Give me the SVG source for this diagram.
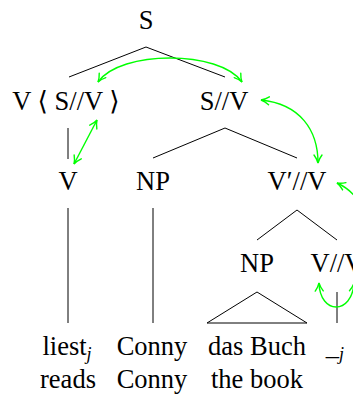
<svg xmlns="http://www.w3.org/2000/svg" width="353" height="398" viewBox="0 0 353 398">
  <defs>
    <style>
      .lbl { font-family: "Liberation Serif", "DejaVu Serif", serif; font-size: 26.5px; fill: #000; text-anchor: middle; }
      .sub { font-style: italic; font-size: 18px; }
      .edge { stroke: #000; stroke-width: 1; fill: none; }
      .link { stroke: #00ff00; stroke-width: 1.4; fill: none; }
    </style>
    <marker id="tip" viewBox="0 0 10 10" refX="9" refY="5" markerWidth="10" markerHeight="10" markerUnits="userSpaceOnUse" orient="auto-start-reverse">
      <path d="M1,1 Q5,4 9,5 Q5,6 1,9" stroke="#00ff00" stroke-width="1.4" fill="none" stroke-linecap="round"/>
    </marker>
  </defs>

  <rect width="353" height="398" fill="#fff"/>

  <!-- tree nodes -->
  <g id="n-S"><text class="lbl" x="146" y="29">S</text></g>
  <g id="n-Vhead"><text class="lbl" x="66" y="110">V ⟨ S//V ⟩</text></g>
  <g id="n-SV"><text class="lbl" x="224" y="110">S//V</text></g>
  <g id="n-V"><text class="lbl" x="68" y="190">V</text></g>
  <g id="n-NP1"><text class="lbl" x="153" y="190">NP</text></g>
  <g id="n-VpV"><text class="lbl" x="297" y="190">V′//V</text></g>
  <g id="n-NP2"><text class="lbl" x="257" y="272">NP</text></g>
  <g id="n-VV"><text class="lbl" x="337" y="272">V//V</text></g>

  <!-- leaves and glosses -->
  <g id="leaf-liest"><text class="lbl" x="67" y="355">liest<tspan class="sub" dy="5">j</tspan></text><text class="lbl" x="68" y="388">reads</text></g>
  <g id="leaf-conny"><text class="lbl" x="152" y="355">Conny</text><text class="lbl" x="152" y="388">Conny</text></g>
  <g id="leaf-buch"><text class="lbl" x="257" y="355">das Buch</text><text class="lbl" x="257" y="388">the book</text></g>
  <g id="leaf-trace"><text class="lbl" x="335" y="355">_<tspan class="sub" dy="5">j</tspan></text></g>

  <!-- tree branches -->
  <g id="branches">
    <path class="edge" d="M69,77 L146,47 L225,77"/>
    <path class="edge" d="M68,128 V159"/>
    <path class="edge" d="M153,158 L225,128 L297,158"/>
    <path class="edge" d="M68,208 V323"/>
    <path class="edge" d="M153,208 V323"/>
    <path class="edge" d="M257,240 L297,210 L337,240"/>
    <path class="edge" d="M207,323 L257,292 L307,323 Z"/>
    <path class="edge" d="M337,292 V323"/>
  </g>

  <!-- feature-passing arrows -->
  <g id="links">
    <path class="link" marker-start="url(#tip)" marker-end="url(#tip)" d="M98,82 C120,50 220,50 242,82"/>
    <path class="link" marker-start="url(#tip)" marker-end="url(#tip)" d="M97,120 L74,164"/>
    <path class="link" marker-start="url(#tip)" marker-end="url(#tip)" d="M261,100 C300,104 318,130 318,163"/>
    <path class="link" marker-start="url(#tip)" d="M337,183 C348,188 356,196 360,205"/>
    <path class="link" marker-start="url(#tip)" marker-end="url(#tip)" d="M319,283 C320,315 352,315 354,283"/>
  </g>
</svg>
